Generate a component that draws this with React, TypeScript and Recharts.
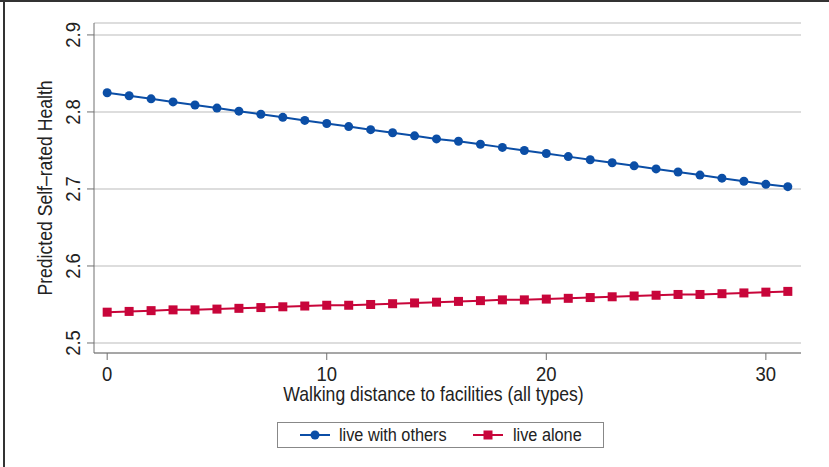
import React from 'react';
import { LineChart, Line, XAxis, YAxis, CartesianGrid, Legend } from 'recharts';

const distance = [0, 1, 2, 3, 4, 5, 6, 7, 8, 9, 10, 11, 12, 13, 14, 15, 16, 17, 18, 19, 20, 21, 22, 23, 24, 25, 26, 27, 28, 29, 30, 31];
const liveWithOthers = [2.825, 2.821, 2.817, 2.813, 2.809, 2.805, 2.801, 2.797, 2.793, 2.789, 2.785, 2.781, 2.777, 2.773, 2.769, 2.765, 2.762, 2.758, 2.754, 2.750, 2.746, 2.742, 2.738, 2.734, 2.730, 2.726, 2.722, 2.718, 2.714, 2.710, 2.706, 2.703];
const liveAlone = [2.540, 2.541, 2.542, 2.543, 2.543, 2.544, 2.545, 2.546, 2.547, 2.548, 2.549, 2.549, 2.550, 2.551, 2.552, 2.553, 2.554, 2.555, 2.556, 2.556, 2.557, 2.558, 2.559, 2.560, 2.561, 2.562, 2.563, 2.563, 2.564, 2.565, 2.566, 2.567];
const xTicks = [0, 10, 20, 30];
const yTicks = [2.5, 2.6, 2.7, 2.8, 2.9];

const BLUE = '#0b4ea6';
const RED = '#c8053a';
const FONT = '"Liberation Sans", Arial, sans-serif';
const SQUEEZE = 0.88; // narrow the glyphs a bit, the original uses a condensed face

// text drawn at (x, y), optionally rotated, squeezed along its baseline
const Txt = ({ x, y, rot = 0, size, anchor = 'middle', children }: any) => (
  <text
    x={0}
    y={0}
    transform={`translate(${x},${y}) rotate(${rot}) scale(${SQUEEZE},1)`}
    textAnchor={anchor}
    fontSize={size}
    fill="#222"
    fontFamily={FONT}
  >
    {children}
  </text>
);

const data = distance.map((d, i) => ({ x: d, others: liveWithOthers[i], alone: liveAlone[i] }));

const YTick = ({ x, y, payload }: any) => (
  <Txt x={x - 5} y={y} rot={-90} size={21}>
    {payload.value.toFixed(1)}
  </Txt>
);

const XTick = ({ x, y, payload }: any) => (
  <Txt x={x} y={y + 19} size={21}>
    {payload.value}
  </Txt>
);

const LegendBox = () => (
  <div
    style={{
      width: 327,
      height: 26,
      boxSizing: 'border-box',
      border: '1px solid #888',
      background: '#fff',
      position: 'relative',
    }}
  >
    <svg width={327} height={26} style={{ position: 'absolute', left: -1, top: -1 }}>
      <line x1={23} x2={53} y1={13} y2={13} stroke={BLUE} strokeWidth={2} />
      <circle cx={38} cy={13} r={4.5} fill={BLUE} />
      <Txt x={62} y={19} size={18.5} anchor="start">live with others</Txt>
      <line x1={196} x2={226} y1={13} y2={13} stroke={RED} strokeWidth={2} />
      <rect x={206.5} y={8.5} width={9} height={9} fill={RED} />
      <Txt x={236} y={19} size={18.5} anchor="start">live alone</Txt>
    </svg>
  </div>
);

const Square = ({ cx, cy }: any) => <rect x={cx - 4.5} y={cy - 4.5} width={9} height={9} fill={RED} />;

export default function App() {
  return (
    <div style={{ position: 'absolute', left: 0, top: 0, width: 829, height: 467, background: '#fff' }}>
      <div style={{ position: 'absolute', left: 0, top: 0, width: 829, height: 2, background: '#333' }} />
      <div style={{ position: 'absolute', left: 3, top: 0, width: 2, height: 467, background: '#333' }} />
      <LineChart width={829} height={467} data={data} margin={{ top: 23, right: 28, left: 0, bottom: 54 }}>
        <CartesianGrid horizontal vertical={false} stroke="#d2d2d2" strokeWidth={1.5} />
        <XAxis
          dataKey="x"
          type="number"
          domain={[-0.6, 31.6]}
          ticks={xTicks}
          allowDataOverflow
          height={60}
          tickSize={7}
          stroke="#707070"
          tick={<XTick />}
          label={({ viewBox }: any) => (
            <Txt x={viewBox.x + viewBox.width / 2 - 14} y={401} size={20}>
              Walking distance to facilities (all types)
            </Txt>
          )}
        />
        <YAxis
          type="number"
          domain={[2.487, 2.9155]}
          ticks={yTicks}
          allowDataOverflow
          width={94}
          tickSize={7}
          stroke="#707070"
          tick={<YTick />}
          label={({ viewBox }: any) => (
            <Txt x={52} y={viewBox.y + viewBox.height / 2} rot={-90} size={20}>
              Predicted Self–rated Health
            </Txt>
          )}
        />
        <Legend
          layout="horizontal"
          verticalAlign="middle"
          align="center"
          content={<LegendBox />}
          wrapperStyle={{ position: 'absolute', top: 422, left: 277, width: 327, height: 26 }}
        />
        <Line
          type="linear"
          dataKey="others"
          stroke={BLUE}
          strokeWidth={2}
          dot={{ r: 4.5, fill: BLUE, stroke: BLUE, strokeWidth: 0 }}
          isAnimationActive={false}
        />
        <Line
          type="linear"
          dataKey="alone"
          stroke={RED}
          strokeWidth={2}
          dot={<Square />}
          isAnimationActive={false}
        />
      </LineChart>
    </div>
  );
}
